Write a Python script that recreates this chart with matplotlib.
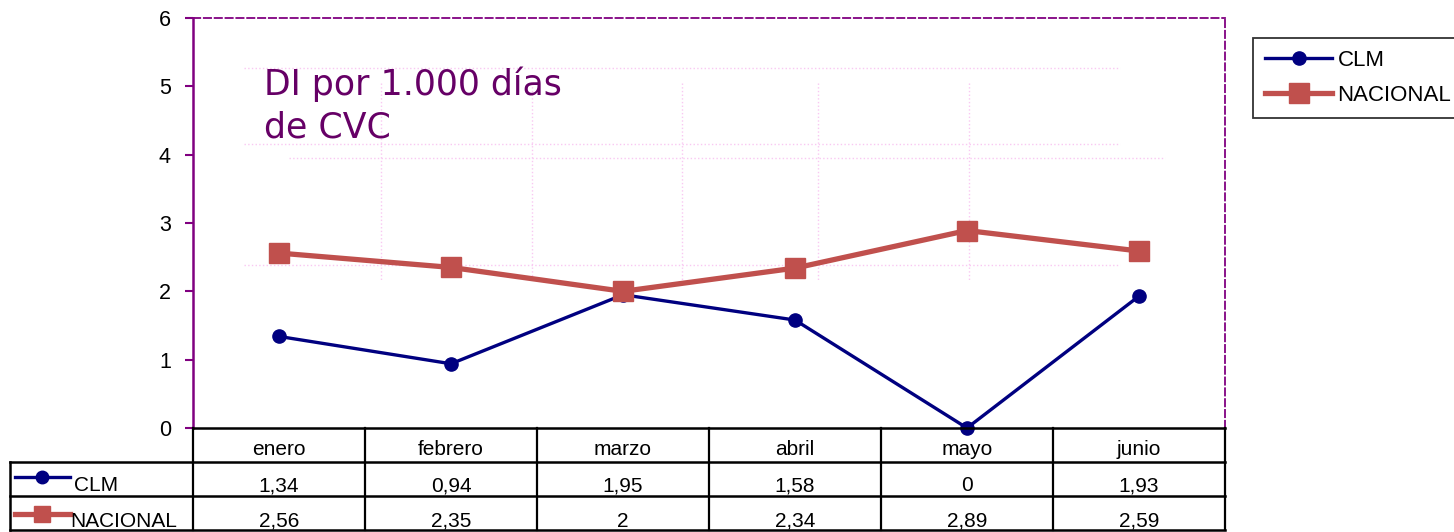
import matplotlib
matplotlib.use('Agg')
import matplotlib.pyplot as plt
from matplotlib.lines import Line2D

plt.rcParams['font.family'] = ['Liberation Sans', 'DejaVu Sans']

# datos
meses = ['enero', 'febrero', 'marzo', 'abril', 'mayo', 'junio']
clm = [1.34, 0.94, 1.95, 1.58, 0, 1.93]
nacional = [2.56, 2.35, 2, 2.34, 2.89, 2.59]
clm_txt = ['1,34', '0,94', '1,95', '1,58', '0', '1,93']
nac_txt = ['2,56', '2,35', '2', '2,34', '2,89', '2,59']
yticks = [0, 1, 2, 3, 4, 5, 6]

W, H = 1454, 532
fig = plt.figure(figsize=(W / 100, H / 100), dpi=100)

def fx(px):
    return px / W

def fy(py):
    return (H - py) / H

# lineas punteadas rosas de fondo (restos del cuadro de texto)
rosa = '#F9C8F2'
for y0, xa, xb in [(68, 244, 1120), (144, 244, 1120), (158, 289, 1165), (265, 244, 1120)]:
    fig.add_artist(Line2D([fx(xa), fx(xb)], [fy(y0), fy(y0)], color=rosa, lw=1, ls=':', zorder=0))
for x0 in [381, 532, 682, 818, 969]:
    fig.add_artist(Line2D([fx(x0), fx(x0)], [fy(83), fy(280)], color=rosa, lw=1, ls=':', zorder=0))

ax = fig.add_axes([fx(193), fy(428), (1225 - 193) / W, 410 / H])
ax.patch.set_alpha(0)
x = list(range(len(meses)))
l_clm, = ax.plot(x, clm, color='#000080', lw=2.4, marker='o', ms=9.5, zorder=3, clip_on=False)
l_nac, = ax.plot(x, nacional, color='#C0504D', lw=3.8, marker='s', ms=14, zorder=4, clip_on=False)

ax.set_xlim(-0.5, 5.5)
ax.set_ylim(0, 6)
ax.set_xticks([])
ax.set_yticks(yticks)
ax.tick_params(axis='y', colors='#800080', length=6, width=1.5, labelsize=15.5, labelcolor='black', pad=10)
ax.spines['bottom'].set_visible(False)
ax.spines['left'].set_color('#800080')
ax.spines['left'].set_linewidth(1.8)
for s in ['top', 'right']:
    ax.spines[s].set_color('#800080')
    ax.spines[s].set_linewidth(1.3)
    ax.spines[s].set_linestyle((0, (4, 2)))

fig.text(fx(264), fy(67), 'DI por 1.000 días\nde CVC', ha='left', va='top',
         fontsize=25, color='#660066', family='DejaVu Sans', linespacing=1.3)

leg = fig.legend([l_clm, l_nac], ['CLM', 'NACIONAL'], loc='upper left',
                 bbox_to_anchor=(fx(1253), fy(38)), frameon=True, fancybox=False,
                 edgecolor='black', fontsize=16, handlelength=3.0, borderaxespad=0,
                 borderpad=0.55, labelspacing=0.6, handletextpad=0.25)
leg.get_frame().set_linewidth(1.3)

# tabla de datos
ancho_lbl = (193 - 10) / 172
tax = fig.add_axes([fx(10), fy(530), (1225 - 10) / W, (530 - 428) / H])
tax.set_xlim(-0.5 - ancho_lbl, 5.5)
tax.set_ylim(0, 3)
tax.axis('off')
x_izq = -0.5 - ancho_lbl
tax.plot([-0.5, 5.5], [3, 3], color='black', lw=1.8, clip_on=False)
for yy in [2, 1, 0]:
    tax.plot([x_izq, 5.5], [yy, yy], color='black', lw=1.8, clip_on=False)
tax.plot([x_izq, x_izq], [0, 2], color='black', lw=1.8, clip_on=False)
for i in range(len(meses) + 1):
    tax.plot([i - 0.5, i - 0.5], [0, 3], color='black', lw=1.6, clip_on=False)
for i, m in enumerate(meses):
    tax.text(i, 2.2, m, ha='center', va='baseline', fontsize=15)
    tax.text(i, 1.14, clm_txt[i], ha='center', va='baseline', fontsize=15)
    tax.text(i, 0.1, nac_txt[i], ha='center', va='baseline', fontsize=15)

# claves de leyenda en la tabla
k0, k1 = x_izq + 5 / 172, x_izq + 60 / 172
tax.plot([k0, k1], [1.56, 1.56], color='#000080', lw=2.4)
tax.plot([(k0 + k1) / 2], [1.56], color='#000080', marker='o', ms=9)
tax.plot([k0, k1], [0.47, 0.47], color='#C0504D', lw=3.8)
tax.plot([(k0 + k1) / 2], [0.47], color='#C0504D', marker='s', ms=11)
tax.text(x_izq + 64 / 172, 1.14, 'CLM', ha='left', va='baseline', fontsize=15)
tax.text(x_izq + 60 / 172, 0.1, 'NACIONAL', ha='left', va='baseline', fontsize=15)

fig.savefig('out.png', dpi=100)
